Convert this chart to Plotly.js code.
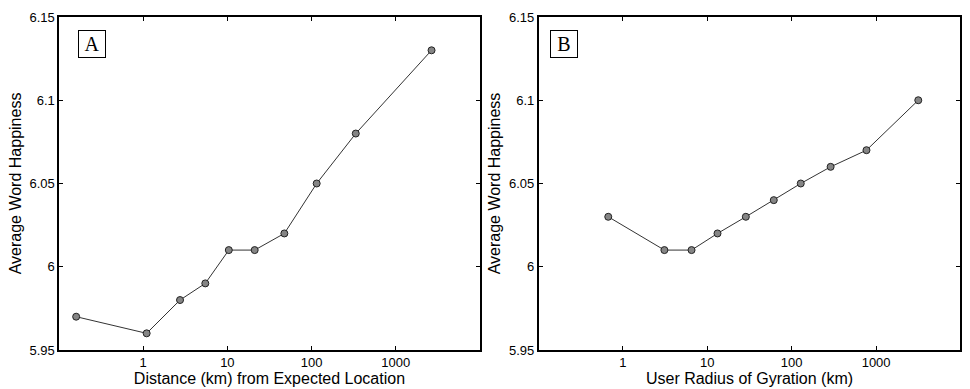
<!DOCTYPE html>
<html>
<head>
<meta charset="utf-8">
<script src="https://cdn.plot.ly/plotly-3.0.1.min.js"></script>
<style>html,body{margin:0;padding:0;background:#fff;}#chart{width:970px;height:389px;}</style>
</head>
<body>
<div id="chart"></div>
<script>
// Panel A: distance from expected location
const distanceKm = [0.16, 1.1, 2.74, 5.47, 10.4, 21.1, 47.5, 115, 335, 2660];
const happinessA = [5.97, 5.96, 5.98, 5.99, 6.01, 6.01, 6.02, 6.05, 6.08, 6.13];
// Panel B: user radius of gyration
const gyrationKm = [0.67, 3.1, 6.5, 13.2, 28.6, 61.3, 128, 289, 769, 3160];
const happinessB = [6.03, 6.01, 6.01, 6.02, 6.03, 6.04, 6.05, 6.06, 6.07, 6.10];

const xTickVals = [1, 10, 100, 1000];
const xTickText = ['1', '10', '100', '1000'];
const yTickVals = [5.95, 6.0, 6.05, 6.1, 6.15];
const yTickText = ['5.95', '6', '6.05', '6.1', '6.15'];
const panelLabels = ['A', 'B'];
const xTitles = ['Distance (km) from Expected Location', 'User Radius of Gyration (km)'];
const yTitle = 'Average Word Happiness';

const sans = 'Liberation Sans, Arial, Helvetica, sans-serif';
const markerStyle = {color: '#858585', size: 7, line: {color: '#222', width: 1}};
const lineStyle = {color: '#333', width: 1};

const traces = [
  {x: distanceKm, y: happinessA, xaxis: 'x', yaxis: 'y', mode: 'lines+markers', marker: markerStyle, line: lineStyle, showlegend: false},
  {x: gyrationKm, y: happinessB, xaxis: 'x2', yaxis: 'y2', mode: 'lines+markers', marker: markerStyle, line: lineStyle, showlegend: false}
];

function xAxis(domain, title, anchor) {
  return {
    type: 'log', range: [-1, 4], domain: domain, anchor: anchor,
    tickvals: xTickVals, ticktext: xTickText,
    ticks: 'inside', ticklen: 4, tickwidth: 1, tickcolor: '#000',
    showline: true, linecolor: '#000', linewidth: 1.6, mirror: 'ticks',
    showgrid: false, zeroline: false,
    tickfont: {family: sans, size: 13, color: '#000'},
    title: {text: title, font: {family: sans, size: 16, color: '#000'}, standoff: 2},
    automargin: false
  };
}
function yAxis(anchor) {
  return {
    range: [5.95, 6.15], domain: [0.1003, 0.9563], anchor: anchor,
    tickvals: yTickVals, ticktext: yTickText,
    ticks: 'inside', ticklen: 4, tickwidth: 1, tickcolor: '#000',
    showline: true, linecolor: '#000', linewidth: 1.6, mirror: 'ticks',
    showgrid: false, zeroline: false,
    tickfont: {family: sans, size: 13, color: '#000'},
    title: {text: yTitle, font: {family: sans, size: 16, color: '#000'}, standoff: 4},
    automargin: false
  };
}

const layout = {
  width: 970, height: 389,
  margin: {l: 0, r: 0, t: 0, b: 0},
  paper_bgcolor: '#fff', plot_bgcolor: '#fff',
  xaxis: xAxis([0.0608, 0.4948], xTitles[0], 'y'),
  yaxis: yAxis('x'),
  xaxis2: xAxis([0.5552, 0.9902], xTitles[1], 'y2'),
  yaxis2: yAxis('x2'),
  annotations: [
    {text: panelLabels[0], xref: 'paper', yref: 'paper', x: 92 / 970, y: 1 - 44.5 / 389, xanchor: 'center', yanchor: 'middle', showarrow: false,
     font: {family: 'Liberation Serif, Times New Roman, serif', size: 20, color: '#000'},
     bordercolor: '#000', borderwidth: 1, bgcolor: '#fff', width: 22, height: 22, borderpad: 2},
    {text: panelLabels[1], xref: 'paper', yref: 'paper', x: 564 / 970, y: 1 - 44 / 389, xanchor: 'center', yanchor: 'middle', showarrow: false,
     font: {family: 'Liberation Serif, Times New Roman, serif', size: 20, color: '#000'},
     bordercolor: '#000', borderwidth: 1, bgcolor: '#fff', width: 22, height: 22, borderpad: 2}
  ]
};

Plotly.newPlot('chart', traces, layout, {staticPlot: true, displayModeBar: false});
</script>
</body>
</html>
